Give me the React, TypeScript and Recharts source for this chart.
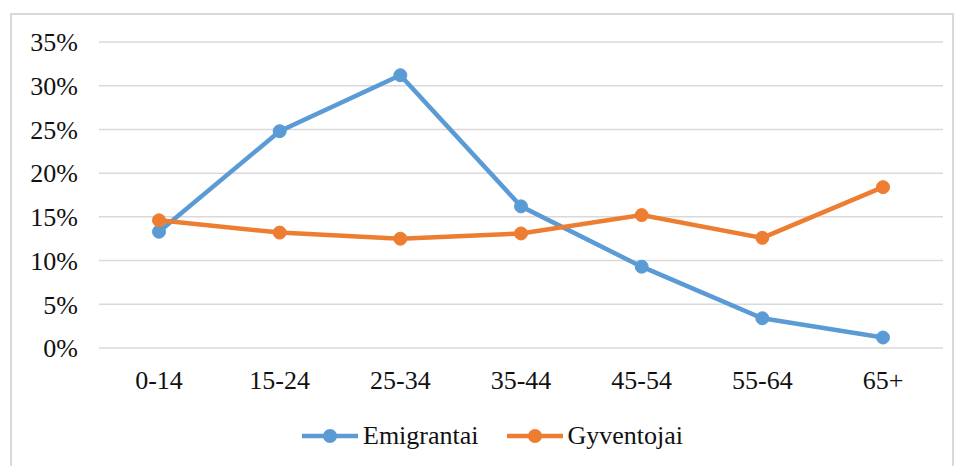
import {CartesianGrid, Legend, Line, LineChart, XAxis, YAxis} from "recharts";

const ageGroups = ['0-14', '15-24', '25-34', '35-44', '45-54', '55-64', '65+'];
const emigrantai = [13.3, 24.8, 31.2, 16.2, 9.3, 3.4, 1.2];
const gyventojai = [14.6, 13.2, 12.5, 13.1, 15.2, 12.6, 18.4];
const yTicks = [0, 5, 10, 15, 20, 25, 30, 35];

const font = "'Liberation Serif', serif";

export default function App() {

    const data = ageGroups.map((group, i) =>
        ({group, Emigrantai: emigrantai[i], Gyventojai: gyventojai[i]}))

    function CustomLegend({payload}: any) {
        return (
            <div style={{display: 'flex', alignItems: 'center', height: 40, paddingLeft: 290}}>
                {payload.map((entry: any, index: number) => (
                    <div key={`item-${index}`} style={{display: 'flex', alignItems: 'center', marginRight: 28}}>
                        <svg width={56} height={16} style={{marginRight: 5}}>
                            <line x1={0} y1={8} x2={56} y2={8} stroke={entry.color} strokeWidth={4.5}/>
                            <circle cx={28} cy={8} r={7} fill={entry.color}/>
                        </svg>
                        <span style={{color: '#111', fontFamily: font, fontSize: 26}}>{entry.value}</span>
                    </div>
                ))}
            </div>
        )
    }

    return (
        <div style={{
            position: 'absolute', left: 10, top: 13, width: 940, height: 460,
            border: '2px solid #d9d9d9', background: '#fff', fontFamily: font
        }}>
            <LineChart width={940} height={458} data={data} style={{fontFamily: font}}
                       margin={{top: 27, right: 9, left: 0, bottom: 17}}>
                <CartesianGrid vertical={false} stroke="#d9d9d9" strokeWidth={1.5}/>
                <XAxis dataKey="group" axisLine={false} tickLine={false} tickSize={0} tickMargin={23}
                       height={68} interval={0} padding={{left: 60, right: 60}}
                       tick={{fill: '#111', fontSize: 26, fontFamily: font}}/>
                <YAxis domain={[0, 35]} ticks={yTicks} width={87} axisLine={false} tickLine={false}
                       tickSize={0} tickMargin={21} tickFormatter={(v) => `${v}%`}
                       tick={{fill: '#111', fontSize: 26, fontFamily: font}}/>
                <Line dataKey="Emigrantai" stroke="#5B9BD5" strokeWidth={4.5}
                      dot={{r: 6.5, fill: '#5B9BD5', stroke: '#5B9BD5', strokeWidth: 1}}
                      isAnimationActive={false}/>
                <Line dataKey="Gyventojai" stroke="#ED7D31" strokeWidth={4.5}
                      dot={{r: 6.5, fill: '#ED7D31', stroke: '#ED7D31', strokeWidth: 1}}
                      isAnimationActive={false}/>
                <Legend content={<CustomLegend/>} verticalAlign="bottom"/>
            </LineChart>
        </div>
    );
}
